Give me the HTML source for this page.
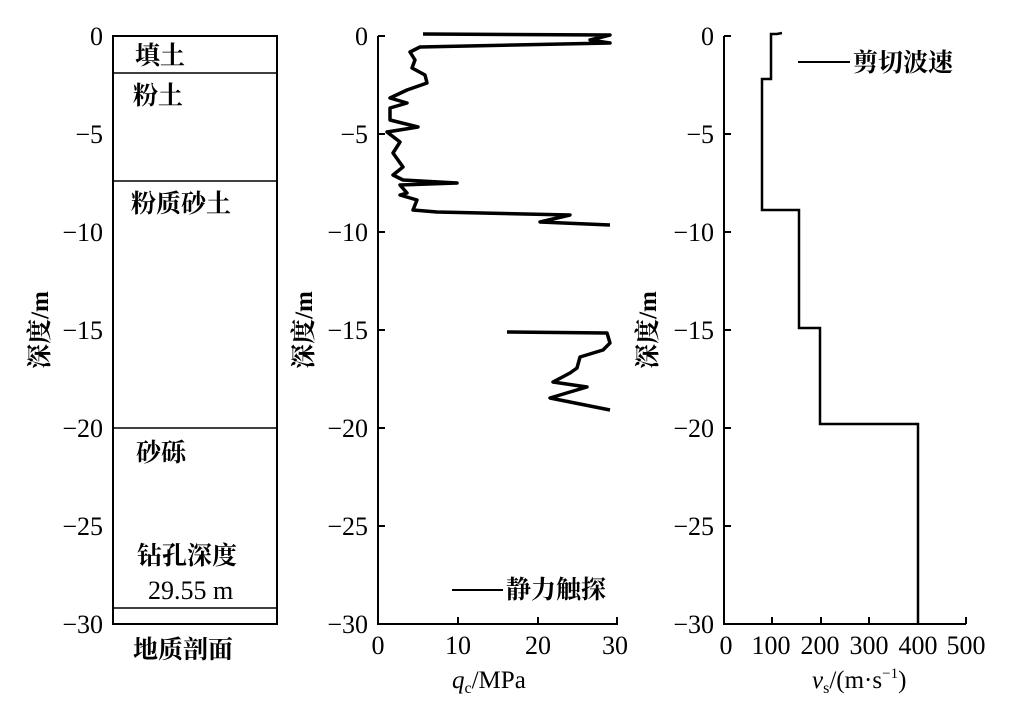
<!DOCTYPE html>
<html><head><meta charset="utf-8"><style>
body{margin:0;background:#fff;}
svg text{font-family:"Liberation Serif","Noto Serif CJK SC",serif;fill:#000;}
</style></head><body>
<svg width="1017" height="717" viewBox="0 0 1017 717" xmlns="http://www.w3.org/2000/svg">
<g font-size="26" text-anchor="end">
<text x="103" y="45">0</text><text x="103" y="143">−5</text><text x="103" y="241">−10</text><text x="103" y="339">−15</text><text x="103" y="437">−20</text><text x="103" y="535">−25</text><text x="103" y="633">−30</text>
<text x="368" y="45">0</text><text x="368" y="143">−5</text><text x="368" y="241">−10</text><text x="368" y="339">−15</text><text x="368" y="437">−20</text><text x="368" y="535">−25</text><text x="368" y="633">−30</text>
<text x="714" y="45">0</text><text x="714" y="143">−5</text><text x="714" y="241">−10</text><text x="714" y="339">−15</text><text x="714" y="437">−20</text><text x="714" y="535">−25</text><text x="714" y="633">−30</text>
</g>
<g font-size="25" font-weight="bold">
<text transform="translate(48,330) rotate(-90)" text-anchor="middle">深度/m</text>
<text transform="translate(312,330) rotate(-90)" text-anchor="middle">深度/m</text>
<text transform="translate(656,330) rotate(-90)" text-anchor="middle">深度/m</text>
</g>
<rect x="113" y="36" width="164" height="588" fill="none" stroke="#000" stroke-width="2"/>
<g stroke="#000" stroke-width="1.6">
<line x1="113" y1="73" x2="277" y2="73"/><line x1="113" y1="181" x2="277" y2="181"/>
<line x1="113" y1="428" x2="277" y2="428"/><line x1="113" y1="608" x2="277" y2="608"/>
</g>
<g font-size="25" font-weight="bold">
<text x="135" y="64">填土</text><text x="133" y="104">粉土</text><text x="131" y="212">粉质砂土</text>
<text x="136" y="461">砂砾</text><text x="137" y="564">钻孔深度</text>
<text x="148" y="599" font-size="26" font-weight="normal">29.55 m</text>
<text x="133" y="658">地质剖面</text>
</g>
<g stroke="#000" stroke-width="2" fill="none">
<polyline points="378,36 378,624 618,624"/>
<path d="M378,36h7M378,134h7M378,232h7M378,330h7M378,428h7M378,526h7M458,624v-7M538,624v-7M617,624v-7"/>
</g>
<g font-size="26" text-anchor="middle">
<text x="378" y="654">0</text><text x="458" y="654">10</text><text x="538" y="654">20</text><text x="615" y="654">30</text>
</g>
<text x="452" y="688" font-size="25"><tspan font-style="italic">q</tspan><tspan font-size="16" dy="5">c</tspan><tspan dy="-5">/MPa</tspan></text>
<g fill="none" stroke="#000" stroke-width="3.5" stroke-linejoin="round">
<polyline points="423,34 610,35 590,40 610,43 420,47 410,52 415,60 412,68 425,75 427,83 407,90 390,98 407,103 390,108 390,120 418,127 387,132 400,142 393,153 403,167 393,175 403,180 457,183 400,185 407,193 400,195 417,200 413,210 437,212 570,215 540,222 610,225"/>
<polyline points="507,332 607,333 610,343 603,350 580,357 577,368 570,373 553,382 587,387 570,392 550,398 610,410"/>
</g>
<line x1="452" y1="590" x2="503" y2="590" stroke="#000" stroke-width="2"/>
<text x="506" y="598" font-size="25" font-weight="bold">静力触探</text>
<g stroke="#000" stroke-width="2" fill="none">
<polyline points="724,36 724,624 966,624"/>
<path d="M724,36h7M724,134h7M724,232h7M724,330h7M724,428h7M724,526h7M772,624v-7M821,624v-7M869,624v-7M918,624v-7M966,624v-7"/>
<polyline stroke-width="2.5" points="782,33 777,34 771,34 771,79 762,79 762,210 799,210 799,328 820,328 820,424 918,424 918,624"/>
</g>
<g font-size="26" text-anchor="middle">
<text x="726" y="654">0</text><text x="771" y="654">100</text><text x="820" y="654">200</text><text x="869" y="654">300</text><text x="918" y="654">400</text><text x="966" y="654">500</text>
</g>
<text x="812" y="688" font-size="25"><tspan font-style="italic">v</tspan><tspan font-size="16" dy="5">s</tspan><tspan dy="-5">/(m·s</tspan><tspan font-size="15" dy="-10">−1</tspan><tspan dy="10">)</tspan></text>
<line x1="798" y1="62" x2="850" y2="62" stroke="#000" stroke-width="2"/>
<text x="853" y="71" font-size="25" font-weight="bold">剪切波速</text>
</svg>
</body></html>
